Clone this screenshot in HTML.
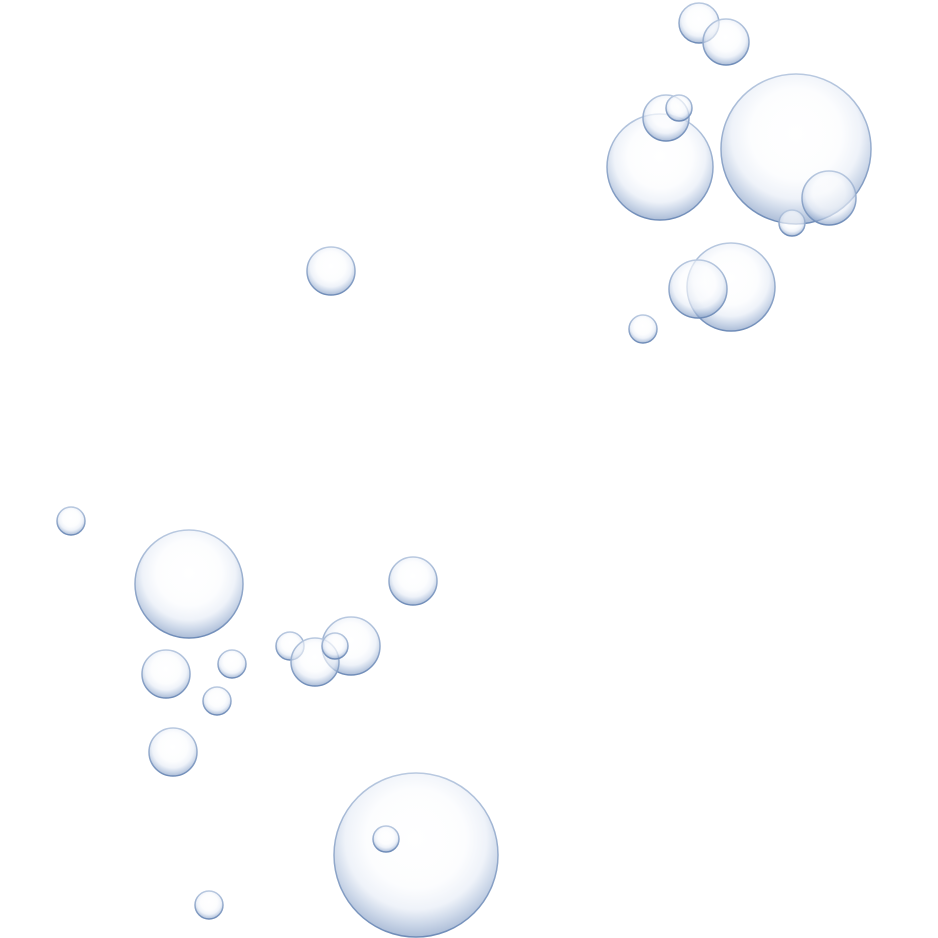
<!DOCTYPE html>
<html><head><meta charset="utf-8"><style>html,body{margin:0;padding:0;background:#fff}svg{display:block}</style></head>
<body>
<svg width="938" height="938" viewBox="0 0 938 938" xmlns="http://www.w3.org/2000/svg">
<defs>
<radialGradient id="g" cx="0.5" cy="0.4" r="0.6">
<stop offset="0" stop-color="#ffffff"/>
<stop offset="0.5" stop-color="#fbfcfe"/>
<stop offset="0.72" stop-color="#e6ecf6"/>
<stop offset="0.86" stop-color="#b3c4de"/>
<stop offset="1" stop-color="#7f99c2"/>
</radialGradient>
<linearGradient id="rim" x1="0" y1="0" x2="0" y2="1">
<stop offset="0" stop-color="#b9c9e0"/>
<stop offset="1" stop-color="#6f8cb8"/>
</linearGradient>
</defs>
<g fill="url(#g)" stroke="url(#rim)" stroke-width="1.5" fill-opacity="0.65">
<circle cx="699" cy="23" r="20"/>
<circle cx="726" cy="42" r="23"/>
<circle cx="796" cy="149" r="75"/>
<circle cx="660" cy="167" r="53"/>
<circle cx="666" cy="118" r="23"/>
<circle cx="679" cy="108" r="13"/>
<circle cx="829" cy="198" r="27"/>
<circle cx="792" cy="223" r="13"/>
<circle cx="731" cy="287" r="44"/>
<circle cx="698" cy="289" r="29"/>
<circle cx="643" cy="329" r="14"/>
<circle cx="331" cy="271" r="24"/>
<circle cx="71" cy="521" r="14"/>
<circle cx="189" cy="584" r="54"/>
<circle cx="413" cy="581" r="24"/>
<circle cx="351" cy="646" r="29"/>
<circle cx="290" cy="646" r="14"/>
<circle cx="315" cy="662" r="24"/>
<circle cx="335" cy="646" r="13"/>
<circle cx="166" cy="674" r="24"/>
<circle cx="232" cy="664" r="14"/>
<circle cx="217" cy="701" r="14"/>
<circle cx="173" cy="752" r="24"/>
<circle cx="416" cy="855" r="82"/>
<circle cx="386" cy="839" r="13"/>
<circle cx="209" cy="905" r="14"/>
</g>
</svg>
</body></html>
